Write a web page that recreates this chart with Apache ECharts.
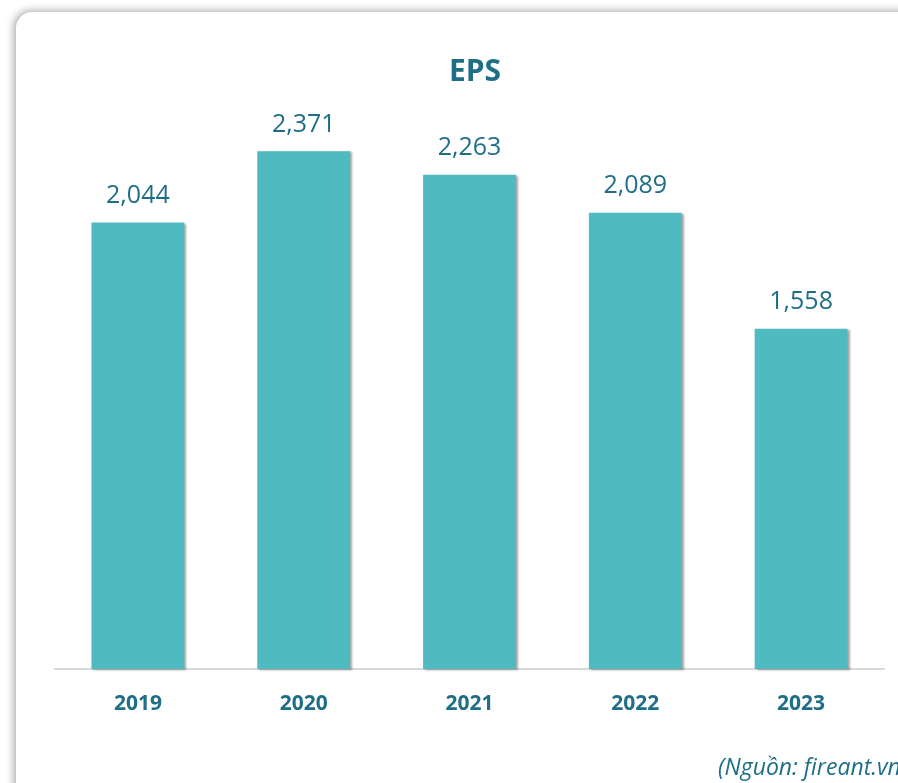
<!DOCTYPE html>
<html>
<head>
<meta charset="utf-8">
<script src="https://cdn.jsdelivr.net/npm/echarts@6/dist/echarts.min.js"></script>
<style>
html,body{margin:0;padding:0;width:898px;height:783px;overflow:hidden;background:#fff;}
#card{position:absolute;left:16px;top:12px;width:1000px;height:900px;border-radius:16px;background:#fff;box-shadow:-2px -1px 8px rgba(0,0,0,0.35);}
#chart{position:absolute;left:0;top:0;width:898px;height:783px;}
</style>
</head>
<body>
<div id="card"></div>
<div id="chart"></div>
<script>
const categories = ['2019', '2020', '2021', '2022', '2023'];
const epsValues = [2044, 2371, 2263, 2089, 1558];
const titleText = 'EPS';
const sourceText = '(Nguồn: fireant.vn)';

const dark = '#1F6E87';
const chart = echarts.init(document.getElementById('chart'), null, {renderer: 'canvas'});
chart.setOption({
  animation: false,
  backgroundColor: 'transparent',
  title: {
    text: titleText, left: 470, top: 52, textAlign: 'center',
    textStyle: {fontFamily: 'Open Sans', fontSize: 30, fontWeight: 'bold', color: dark}
  },
  grid: {left: 55, right: 14, top: 123, bottom: 114},
  xAxis: {
    type: 'category', data: categories,
    axisLine: {lineStyle: {color: '#d9d9d9', width: 2}},
    axisTick: {show: false},
    axisLabel: {fontFamily: 'Open Sans', fontSize: 21, fontWeight: 'bold', color: dark, margin: 25}
  },
  yAxis: {type: 'value', min: 0, max: 2500, show: false, splitLine: {show: false}},
  series: [{
    type: 'bar', data: epsValues, barWidth: '56%',
    itemStyle: {color: '#4FBABF', shadowColor: 'rgba(0,0,0,0.35)', shadowBlur: 2, shadowOffsetX: 2, shadowOffsetY: 1},
    label: {
      show: true, position: 'top', distance: 14,
      fontFamily: 'Open Sans', fontSize: 25, color: dark,
      formatter: p => p.value.toLocaleString('en-US')
    }
  }],
  graphic: [{
    type: 'text', left: 718, top: 757,
    style: {text: sourceText, font: 'italic 23px "Open Sans"', fill: dark}
  }]
});
</script>
</body>
</html>
